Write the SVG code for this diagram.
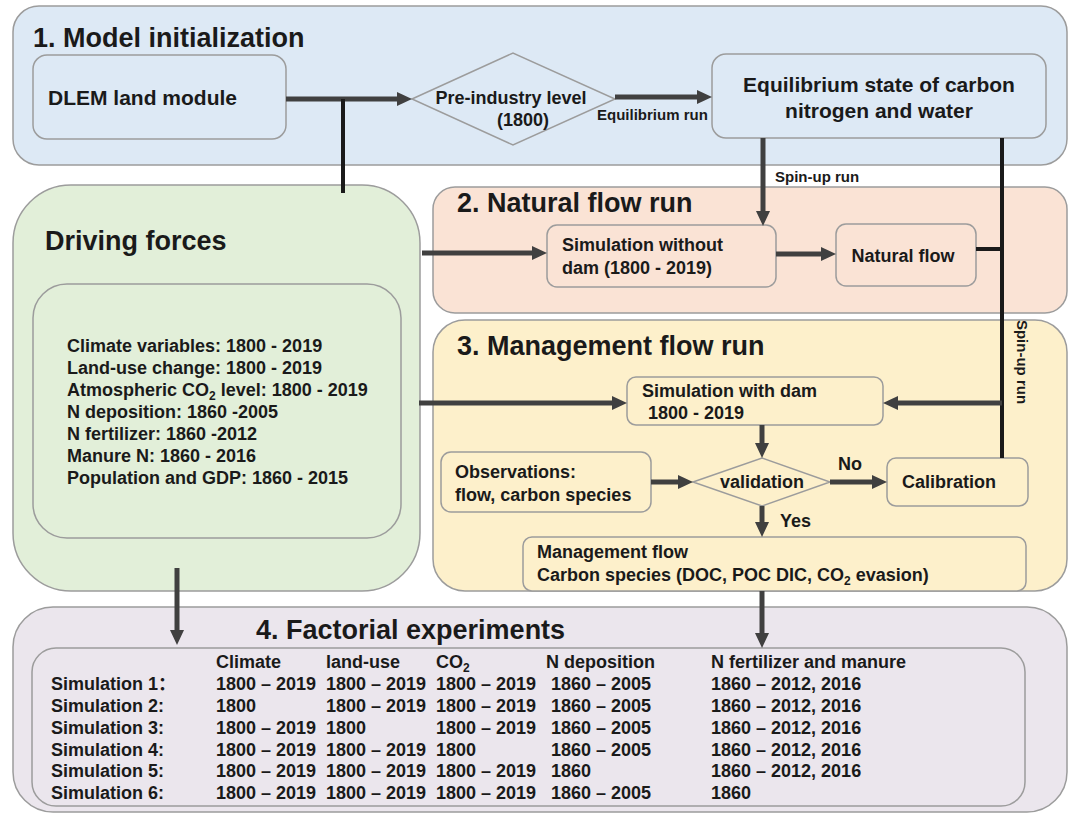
<svg xmlns="http://www.w3.org/2000/svg" width="1072" height="814" viewBox="0 0 1072 814">
<defs>
<style>
text{font-family:"Liberation Sans",Arial,"Noto Sans CJK SC",sans-serif;font-weight:bold;fill:#1a1a1a}
.t27{font-size:27px}
.t21{font-size:21px}
.t18{font-size:18px}
.t15{font-size:15px}
.panel{stroke:#9c9c9c;stroke-width:1.5}
.box{stroke:#9c9c9c;stroke-width:1.5}
.blue{fill:#dde9f5}
.peach{fill:#fae3d5}
.yellow{fill:#fdf0cb}
.green{fill:#e2efd9}
.lav{fill:#ebe6ed}
.arr{stroke:#404040;stroke-width:5;fill:none;marker-end:url(#ah)}
.ln{stroke:#1a1a1a;stroke-width:4;fill:none}
</style>
<marker id="ah" markerWidth="15" markerHeight="14" refX="1" refY="7" orient="auto" markerUnits="userSpaceOnUse" viewBox="0 0 15 14">
<path d="M0,0 L15,7 L0,14 z" fill="#404040"/>
</marker>
</defs>

<g id="panel1">
<rect class="panel blue" x="13" y="6" width="1054" height="159" rx="26"/>
<text class="t27" x="33" y="47">1. Model initialization</text>
</g>
<g id="panel-driving">
<rect class="panel green" x="13" y="185" width="407" height="406" rx="58"/>
<text class="t27" x="45" y="250">Driving forces</text>
</g>
<g id="panel2">
<rect class="panel peach" x="433" y="187" width="634" height="126" rx="22"/>
<text class="t27" x="457" y="212">2. Natural flow run</text>
</g>
<g id="panel3">
<rect class="panel yellow" x="433" y="320" width="634" height="271" rx="32"/>
<text class="t27" x="457" y="355">3. Management flow run</text>
</g>
<g id="panel4">
<rect class="panel lav" x="13" y="607" width="1054" height="205" rx="40"/>
<text class="t27" x="256" y="639">4. Factorial experiments</text>
</g>

<g id="dlem">
<rect class="box blue" x="33" y="55" width="253" height="84" rx="14"/>
<text class="t21" x="48" y="105">DLEM land module</text>
</g>
<g id="preindustry">
<polygon class="box blue" points="412,99 513,53 615,99 513,145"/>
<text class="t18" x="511" y="104" text-anchor="middle">Pre-industry level</text>
<text class="t18" x="523" y="126" text-anchor="middle">(1800)</text>
</g>
<g id="equilibrium">
<rect class="box blue" x="712" y="54" width="334" height="84" rx="14"/>
<text class="t21" x="879" y="92" text-anchor="middle">Equilibrium state of carbon</text>
<text class="t21" x="879" y="118" text-anchor="middle">nitrogen and water</text>
</g>
<g id="forces-list">
<rect class="box green" x="33" y="284" width="368" height="254" rx="34"/>
<text class="t18" x="67" y="352">Climate variables: 1800 - 2019</text>
<text class="t18" x="67" y="374">Land-use change: 1800 - 2019</text>
<text class="t18" x="67" y="396">Atmospheric CO<tspan font-size="12" dy="4">2</tspan><tspan dy="-4"> level: 1800 - 2019</tspan></text>
<text class="t18" x="67" y="418">N deposition: 1860 -2005</text>
<text class="t18" x="67" y="440">N fertilizer: 1860 -2012</text>
<text class="t18" x="67" y="462">Manure N: 1860 - 2016</text>
<text class="t18" x="67" y="484">Population and GDP: 1860 - 2015</text>
</g>
<g id="sim-nodam">
<rect class="box peach" x="547" y="225" width="229" height="62" rx="10"/>
<text class="t18" x="562" y="251">Simulation without</text>
<text class="t18" x="562" y="274">dam (1800 - 2019)</text>
</g>
<g id="natural-flow">
<rect class="box peach" x="836" y="224" width="140" height="62" rx="10"/>
<text class="t18" x="903" y="262" text-anchor="middle">Natural flow</text>
</g>
<g id="sim-dam">
<rect class="box yellow" x="627" y="377" width="256" height="48" rx="9"/>
<text class="t18" x="642" y="397">Simulation with dam</text>
<text class="t18" x="648" y="419">1800 - 2019</text>
</g>
<g id="observations">
<rect class="box yellow" x="441" y="452" width="210" height="60" rx="10"/>
<text class="t18" x="455" y="478">Observations:</text>
<text class="t18" x="455" y="501">flow, carbon species</text>
</g>
<g id="validation">
<polygon class="box yellow" points="693,482 762,458 830,482 762,506"/>
<text class="t18" x="762" y="488" text-anchor="middle">validation</text>
</g>
<g id="calibration">
<rect class="box yellow" x="887" y="458" width="141" height="48" rx="9"/>
<text class="t18" x="902" y="488">Calibration</text>
</g>
<g id="management-flow">
<rect class="box yellow" x="523" y="537" width="503" height="54" rx="9"/>
<text class="t18" x="537" y="558">Management flow</text>
<text class="t18" x="537" y="581">Carbon species (DOC, POC DIC, CO<tspan font-size="12" dy="4">2</tspan><tspan dy="-4"> evasion)</tspan></text>
</g>
<g id="table">
<rect class="box lav" x="32" y="648" width="993" height="158" rx="24"/>
<text class="t18" x="216" y="668">Climate</text>
<text class="t18" x="326" y="668">land-use</text>
<text class="t18" x="436" y="668">CO<tspan font-size="12" dy="4">2</tspan></text>
<text class="t18" x="546" y="668">N deposition</text>
<text class="t18" x="711" y="668">N fertilizer and manure</text>

<text class="t18" x="51" y="690">Simulation 1：</text>
<text class="t18" x="216" y="690">1800 – 2019</text>
<text class="t18" x="326" y="690">1800 – 2019</text>
<text class="t18" x="436" y="690">1800 – 2019</text>
<text class="t18" x="551" y="690">1860 – 2005</text>
<text class="t18" x="711" y="690">1860 – 2012, 2016</text>

<text class="t18" x="51" y="712">Simulation 2:</text>
<text class="t18" x="216" y="712">1800</text>
<text class="t18" x="326" y="712">1800 – 2019</text>
<text class="t18" x="436" y="712">1800 – 2019</text>
<text class="t18" x="551" y="712">1860 – 2005</text>
<text class="t18" x="711" y="712">1860 – 2012, 2016</text>

<text class="t18" x="51" y="734">Simulation 3:</text>
<text class="t18" x="216" y="734">1800 – 2019</text>
<text class="t18" x="326" y="734">1800</text>
<text class="t18" x="436" y="734">1800 – 2019</text>
<text class="t18" x="551" y="734">1860 – 2005</text>
<text class="t18" x="711" y="734">1860 – 2012, 2016</text>

<text class="t18" x="51" y="756">Simulation 4:</text>
<text class="t18" x="216" y="756">1800 – 2019</text>
<text class="t18" x="326" y="756">1800 – 2019</text>
<text class="t18" x="436" y="756">1800</text>
<text class="t18" x="551" y="756">1860 – 2005</text>
<text class="t18" x="711" y="756">1860 – 2012, 2016</text>

<text class="t18" x="51" y="777">Simulation 5:</text>
<text class="t18" x="216" y="777">1800 – 2019</text>
<text class="t18" x="326" y="777">1800 – 2019</text>
<text class="t18" x="436" y="777">1800 – 2019</text>
<text class="t18" x="551" y="777">1860</text>
<text class="t18" x="711" y="777">1860 – 2012, 2016</text>

<text class="t18" x="51" y="799">Simulation 6:</text>
<text class="t18" x="216" y="799">1800 – 2019</text>
<text class="t18" x="326" y="799">1800 – 2019</text>
<text class="t18" x="436" y="799">1800 – 2019</text>
<text class="t18" x="551" y="799">1860 – 2005</text>
<text class="t18" x="711" y="799">1860</text>
</g>

<g id="connectors">
<line class="arr" x1="286" y1="99" x2="398" y2="99"/>
<line class="ln" x1="343" y1="99" x2="343" y2="193"/>
<line class="arr" x1="615" y1="97" x2="698" y2="97"/>
<text class="t15" x="597" y="120">Equilibrium run</text>
<line class="arr" x1="763" y1="138" x2="763" y2="212"/>
<text class="t15" x="775" y="182">Spin-up run</text>
<line class="arr" x1="422" y1="253" x2="533" y2="253"/>
<line class="arr" x1="776" y1="254" x2="822" y2="254"/>
<line class="ln" x1="976" y1="249" x2="1002" y2="249"/>
<line class="ln" x1="1002" y1="138" x2="1002" y2="458"/>
<text class="t15" x="1017" y="362" text-anchor="middle" transform="rotate(90 1017 362)">Spin-up run</text>
<line class="arr" x1="1002" y1="403" x2="897" y2="403"/>
<line class="arr" x1="419" y1="403" x2="613" y2="403"/>
<line class="arr" x1="762" y1="425" x2="762" y2="444"/>
<line class="arr" x1="651" y1="482" x2="679" y2="482"/>
<line class="arr" x1="830" y1="482" x2="873" y2="482"/>
<text class="t18" x="838" y="470">No</text>
<line class="arr" x1="762" y1="506" x2="762" y2="523"/>
<text class="t18" x="780" y="527">Yes</text>
<line class="arr" x1="762" y1="591" x2="762" y2="634"/>
<line class="arr" x1="177" y1="568" x2="177" y2="631"/>
</g>
</svg>
